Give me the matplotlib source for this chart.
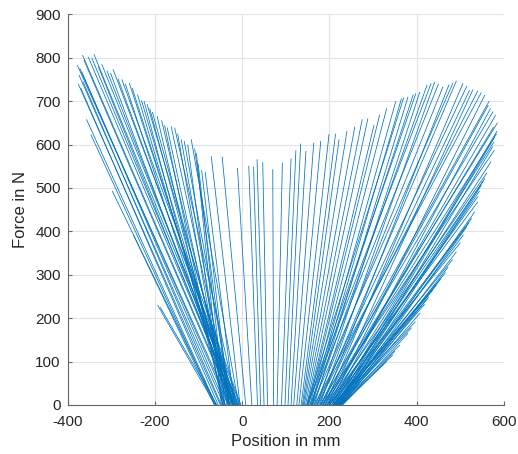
import numpy as np
import matplotlib
matplotlib.use("Agg")
import matplotlib.pyplot as plt

# ---- data ----
base_force = 0.0

left_top_x = [-378, -366, -363, -353, -345, -340, -372, -368, -374, -365, -376, -370,
              -357, -347, -330, -322, -310, -302, -296, -285, -276, -268, -259, -252,
              -240, -231, -225, -218, -212, -206, -195, -185, -178, -172, -163, -155,
              -148, -140, -133, -125, -117, -109, -105, -101, -93, -85, -71, -46,
              -298, -249, -194, -188]
left_top_y = [783, 806, 795, 802, 800, 808, 775, 768, 760, 745, 740, 730,
              658, 623, 780, 785, 770, 765, 773, 752, 750, 740, 742, 730,
              715, 702, 700, 693, 683, 675, 665, 656, 645, 639, 642, 639,
              625, 612, 608, 600, 612, 591, 580, 556, 541, 537, 573, 572,
              493, 391, 230, 225]
left_base_x = [-28, -20, -22, -15, -14, -10, -32, -38, -42, -48, -50, -55,
               -60, -62, -18, -8, -12, -20, -5, -10, -3, -28, -18, -22,
               -32, -25, -40, -15, -30, -20, -42, -28, -45, -35, -25, -12,
               -40, -32, -22, -45, -8, -30, -48, -40, -30, -18, -5, 8,
               -60, -64, -62, -58]

right_top_x = [-11, 15, 26, 34, 47, 70, 92, 112, 123, 134, 146, 164, 180, 199, 214, 222,
               240, 258, 275, 288, 302, 315, 331, 352, 365,
               380, 392, 407, 424, 441, 460, 474, 491, 506, 521, 529, 540, 556, 564,
               569, 575, 581, 584, 583, 579, 577, 574, 578, 570, 561, 556, 552, 548,
               544, 540, 533, 526, 514, 507, 500, 491, 482, 472, 455, 445, 437, 428,
               418, 408, 397, 380, 361, 350, 345, 331,
               576, 566, 548, 515, 483, 450, 433, 398, 370, 540, 520, 466, 425, 388, 585]
right_top_y = [546, 551, 549, 566, 559, 543, 558, 568, 587, 602, 585, 604, 608, 624, 625, 612,
               631, 641, 658, 660, 645, 669, 683, 700, 706,
               710, 715, 721, 738, 744, 733, 738, 747, 741, 725, 727, 724, 714, 691,
               683, 676, 668, 631, 625, 618, 606, 595, 587, 560, 535, 522, 515, 506,
               493, 468, 445, 430, 410, 392, 374, 353, 335, 318, 290, 276, 265, 250,
               232, 212, 192, 165, 138, 124, 115, 100,
               640, 700, 720, 735, 742, 740, 741, 718, 708, 480, 420, 305, 245, 178, 650]
right_base_x = [22, 35, 42, 50, 58, 72, 80, 90, 98, 105, 112, 118, 125, 130, 135, 138,
                140, 142, 145, 148, 150, 152, 155, 158, 160,
                165, 158, 172, 162, 178, 168, 185, 175, 190, 180, 195, 172, 200, 185,
                205, 178, 195, 210, 188, 215, 198, 220, 182, 205, 192, 215, 200, 222,
                208, 195, 218, 205, 225, 212, 200, 220, 210, 226, 215, 222, 208, 228,
                218, 225, 215, 228, 222, 230, 225, 228,
                190, 180, 165, 170, 160, 155, 150, 150, 148, 200, 210, 212, 212, 220, 185]

x_ticks = [-400, -200, 0, 200, 400, 600]
y_ticks = [0, 100, 200, 300, 400, 500, 600, 700, 800, 900]

# ---- figure ----
plt.rcParams['font.family'] = ['Liberation Sans', 'DejaVu Sans']
plt.rcParams['axes.unicode_minus'] = False
fig = plt.figure(figsize=(5.18, 4.54), dpi=100)
ax = fig.add_axes([0.1307, 0.108, 0.8423, 0.8605])

line_color = '#0072BD'
for tx, ty, bx in ((left_top_x, left_top_y, left_base_x),
                   (right_top_x, right_top_y, right_base_x)):
    tx = np.asarray(tx, float)
    ty = np.asarray(ty, float)
    bx = np.asarray(bx, float)
    xs = np.vstack([bx, tx])
    ys = np.vstack([np.full_like(ty, base_force), ty])
    ax.plot(xs, ys, color=line_color, linewidth=0.55, solid_capstyle='butt')

ax.set_xlim(x_ticks[0], x_ticks[-1])
ax.set_ylim(y_ticks[0], y_ticks[-1])
ax.set_xticks(x_ticks)
ax.set_yticks(y_ticks)
ax.grid(True, color='#e3e3e3', linewidth=0.8)
ax.set_axisbelow(True)
for s in ('top', 'right'):
    ax.spines[s].set_visible(False)
for s in ('left', 'bottom'):
    ax.spines[s].set_color('#666666')
    ax.spines[s].set_linewidth(0.8)
ax.tick_params(direction='in', length=3, width=0.8, color='#666666',
               labelsize=11, labelcolor='#262626')
ax.tick_params(axis='x', pad=7)
ax.tick_params(axis='y', pad=5)
ax.set_xlabel('Position in mm', fontsize=12, color='#262626', labelpad=4)
ax.set_ylabel('Force in N', fontsize=12, color='#262626', labelpad=5)

fig.savefig('out.png', dpi=100)
